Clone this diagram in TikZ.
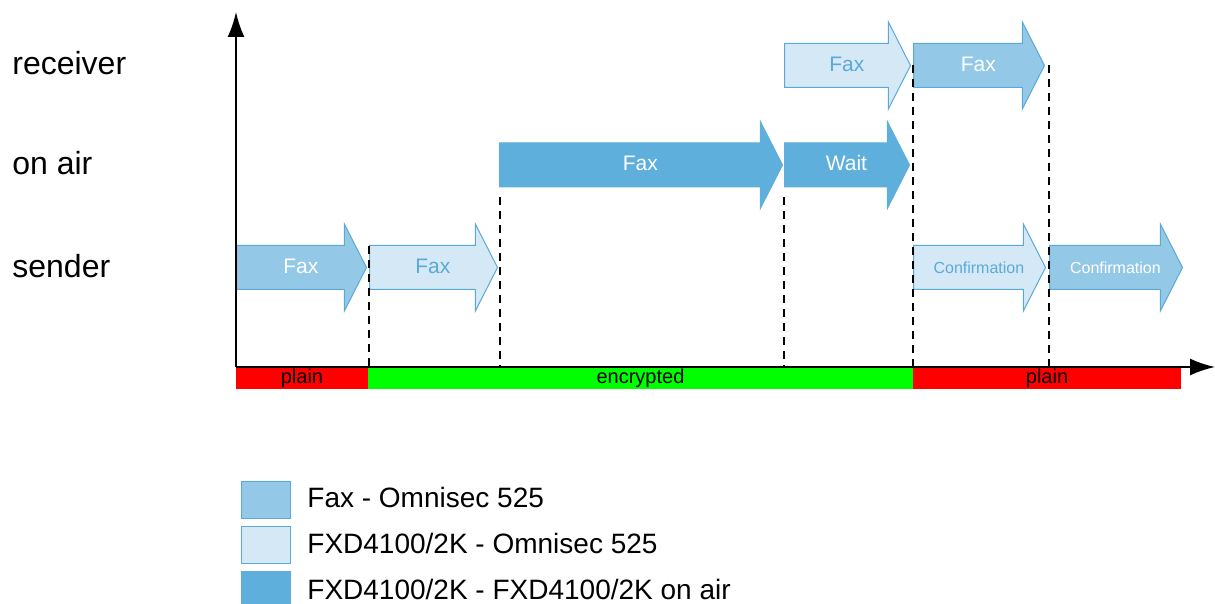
\documentclass[tikz,border=0pt]{standalone}
\usepackage{fontspec}
\setmainfont{Liberation Sans}
\usetikzlibrary{shapes.arrows, arrows.meta}
\definecolor{faxblue}{HTML}{93C8E6}
\definecolor{fxdblue}{HTML}{D4E9F5}
\definecolor{airblue}{HTML}{5EAFDB}
\definecolor{edgeblue}{HTML}{5BA9D9}
\definecolor{plainred}{HTML}{FF0000}
\definecolor{cryptgreen}{HTML}{00FF00}
\tikzset{
    msg/.style={single arrow, anchor=tail, draw=edgeblue, line width=0.5pt, inner xsep=0pt, inner ysep=5.75pt,
        text height=8pt, text depth=2pt, single arrow head extend=10.75pt, single arrow tip angle=126,
        font=\fontsize{10.5pt}{12pt}\selectfont, execute at begin node={\hspace*{5pt}}},
    fax/.style={msg, fill=faxblue, text=white},
    fxd/.style={msg, fill=fxdblue, text=edgeblue},
    air/.style={msg, fill=airblue, draw=airblue, text=white},
    small/.style={font=\fontsize{8pt}{10pt}\selectfont},
    row/.style={anchor=base west, inner sep=0pt, font=\fontsize{16pt}{19pt}\selectfont},
    cut/.style={dash pattern=on 4pt off 3pt, line width=1pt},
    band/.style={minimum height=10.5pt, inner sep=0pt, font=\fontsize{10pt}{12pt}\selectfont},
    axis/.style={line width=1pt, -{Latex[length=12.5pt,width=8.5pt]}},
    key/.style={draw=edgeblue, line width=0.5pt, minimum width=24.5pt, minimum height=18.5pt, inner sep=0pt},
    keytext/.style={anchor=base west, inner sep=0pt, font=\fontsize{14pt}{17pt}\selectfont}
}

\begin{document}
\begin{tikzpicture}[x=0.5pt, y=-0.5pt]
    \useasboundingbox (0,0) rectangle (1215,604);

    % row names
    \node[row] (receiver) at (12,75) {receiver};
    \node[row] (onair) at (12,175) {on air};
    \node[row] (sender) at (12,278) {sender};

    % messages (placed at their tails)
    \node[fax, minimum height=65pt] (sfax) at (236,267.5) {Fax};
    \node[fxd, minimum height=64pt] (sfxd) at (369,267.5) {Fax};
    \node[air, minimum height=141.5pt] (afax) at (499,165) {Fax};
    \node[air, minimum height=62.5pt] (await) at (784,165) {Wait};
    \node[fxd, minimum height=63pt] (rfxd) at (784,65.5) {Fax};
    \node[fax, minimum height=65.5pt] (rfax) at (913,65.5) {Fax};
    \node[fxd, small, minimum height=66pt] (sconfa) at (913,267.5) {Confirmation};
    \node[fax, small, minimum height=66.5pt] (sconfb) at (1049,267.5) {Confirmation};

    % time marks
    \coordinate (origin) at (236,367);
    \coordinate (ytop) at (236,12);
    \coordinate (xend) at (1215,367);
    \foreach \name/\x/\y in {ma/369/246, mb/500/197, mc/784/197, md/913/65, me/1049/65} {
        \coordinate (\name top) at (\x,\y);
        \coordinate (\name bot) at (\x,367);
        \draw[cut] (\name top) -- (\name bot);
    }

    % plain / encrypted band
    \node[band, fill=plainred, minimum width=66pt] (plaina) at (302,378.5) {plain};
    \node[band, fill=cryptgreen, minimum width=272.5pt] (crypt) at (640.5,378.5) {encrypted};
    \node[band, fill=plainred, minimum width=134pt] (plainb) at (1047,378.5) {plain};

    \draw[axis] (origin) -- (ytop);
    \draw[axis] (origin) -- (xend);

    % legend
    \node[key, fill=faxblue] (keyfax) at (265.5,499.5) {};
    \node[key, fill=fxdblue] (keyfxd) at (265.5,545) {};
    \node[key, fill=airblue, draw=airblue] (keyair) at (265.5,590) {};
    \node[keytext] (labfax) at (307,507) {Fax - Omnisec 525};
    \node[keytext] (labfxd) at (307,553) {FXD4100/2K - Omnisec 525};
    \node[keytext] (labair) at (307,599) {FXD4100/2K - FXD4100/2K on air};
\end{tikzpicture}
\end{document}
